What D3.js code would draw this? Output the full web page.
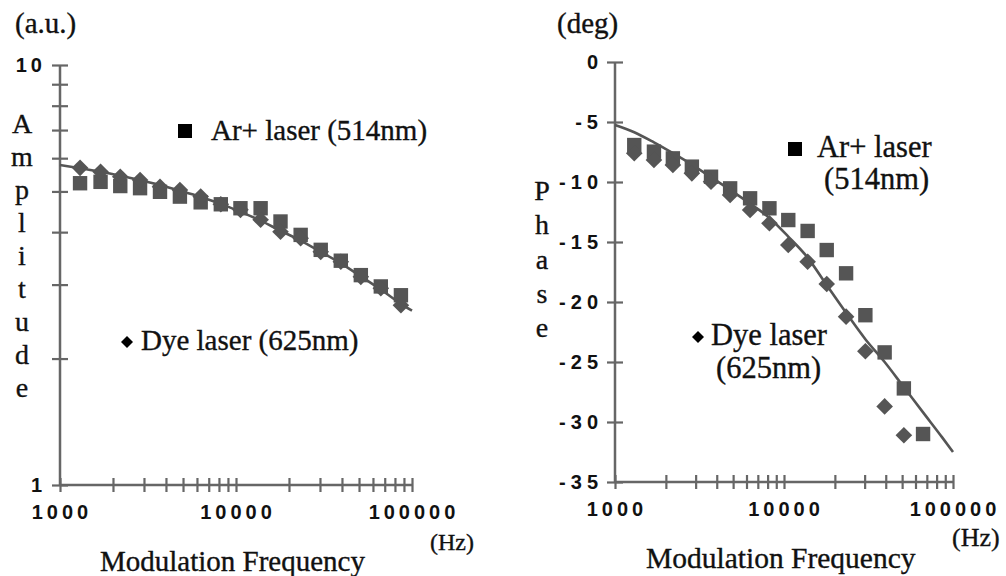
<!DOCTYPE html>
<html><head><meta charset="utf-8">
<script src="https://cdn.jsdelivr.net/npm/d3@7"></script>
<style>
body{margin:0;background:#fff}
.serif{font-family:"Liberation Serif","Times New Roman",serif;fill:#111;stroke:#111;stroke-width:0.35px}
.tick-lbl{font-family:"Liberation Sans",Arial,sans-serif;font-weight:bold;fill:#111;font-size:20px;letter-spacing:4px}
.tick-lbl.ph{letter-spacing:5px}
</style></head>
<body><svg id="c" width="1006" height="576"></svg>
<script>
// ---- data ----
const freqs = [1300,1700,2200,2850,3700,4800,6300,8200,10600,13800,17900,23300,30300,39400,51200,66500,86500];
const fitFreqs = [1000,1300,1700,2200,2850,3700,4800,6300,8200,10600,13800,17900,23300,30300,39400,51200,66500,86500,100000];
const ampAr  = [5.23,5.27,5.15,5.09,4.99,4.86,4.71,4.66,4.56,4.56,4.24,3.94,3.63,3.42,3.16,2.97,2.83];
const ampDye = [5.69,5.57,5.42,5.32,5.13,5.04,4.86,4.66,4.52,4.28,4.01,3.87,3.59,3.40,3.13,2.94,2.68];
const ampFit = [5.78,5.68,5.57,5.45,5.32,5.18,5.02,4.85,4.67,4.47,4.26,4.03,3.82,3.59,3.37,3.14,2.92,2.70,2.60];
const phaseAr  = [-6.92,-7.47,-8.03,-8.72,-9.56,-10.53,-11.36,-12.19,-13.17,-14.08,-15.67,-17.61,-21.1,-24.2,-27.2,-31.0];
const phaseDye = [-7.61,-8.17,-8.58,-9.28,-9.97,-11.08,-12.33,-13.44,-15.25,-16.64,-18.5,-21.22,-24.1,-28.7,-31.1];
const phaseFit = [-5.25,-5.85,-6.7,-7.6,-8.55,-9.6,-10.65,-11.8,-13.0,-14.55,-16.3,-18.6,-20.9,-23.1,-25.0,-27.1,-29.2,-31.3,-32.5];
const xTickLabels = [1000,10000,100000];
const ampTickLabels = [1,10];
const phaseTicks = [0,-5,-10,-15,-20,-25,-30,-35];
const ampLetters = ["A","m","p","l","i","t","u","d","e"];
const phaseLetters = ["P","h","a","s","e"];

const svg = d3.select("#c");
const AX = "#666", MK = "#555";

function diamondPath(r){ return `M0,${-r}L${r},0L0,${r}L${-r},0Z`; }
function squarePath(h){ return `M${-h},${-h}H${h}V${h}H${-h}Z`; }

function drawPanel(o){
  const g = svg.append("g");
  const x = o.x, y = o.y;
  const xr = x.range(), yr = y.range();
  g.append("line").attr("x1",xr[0]).attr("x2",xr[1]).attr("y1",yr[0]).attr("y2",yr[0]).attr("stroke",AX).attr("stroke-width",2.5);
  g.append("line").attr("x1",xr[0]).attr("x2",xr[0]).attr("y1",yr[0]).attr("y2",yr[1]).attr("stroke",AX).attr("stroke-width",2.5);
  const xa = d3.axisBottom(x).tickValues(x.ticks()).tickSize(0).tickFormat("");
  const gx = g.append("g").attr("transform",`translate(0,${yr[0]})`).call(xa);
  gx.select(".domain").remove();
  gx.selectAll(".tick line").attr("y1",-7).attr("y2",7).attr("stroke",AX).attr("stroke-width",2.2);
  const ya = d3.axisLeft(y).tickValues(o.yTicks).tickSize(0).tickFormat("");
  const gy = g.append("g").attr("transform",`translate(${xr[0]},0)`).call(ya);
  gy.select(".domain").remove();
  gy.selectAll(".tick line").attr("x1",-8).attr("x2",8).attr("stroke",AX).attr("stroke-width",2.2);
  g.selectAll(".xl").data(xTickLabels).enter().append("text").attr("class","tick-lbl")
    .attr("x",d=>x(d)+2).attr("y",yr[0]+34).attr("text-anchor","middle").text(d=>d);
  g.selectAll(".yl").data(o.yLabels).enter().append("text").attr("class","tick-lbl "+o.cls)
    .attr("x",o.yLabelX).attr("y",d=>y(d)).attr("dy","0.36em").attr("text-anchor","end").text(o.yFmt);
  const line = d3.line().x((d,i)=>x(fitFreqs[i])).y(d=>y(d)).curve(d3.curveMonotoneX);
  g.append("path").attr("d",line(o.fit)).attr("fill","none").attr("stroke",MK).attr("stroke-width",2.6);
  g.selectAll(".sq").data(o.ar).enter().append("path").attr("d",squarePath(7.2))
    .attr("transform",(d,i)=>`translate(${x(freqs[i])},${y(d)})`).attr("fill",MK);
  g.selectAll(".dm").data(o.dye).enter().append("path").attr("d",diamondPath(8.3))
    .attr("transform",(d,i)=>`translate(${x(freqs[i])},${y(d)})`).attr("fill",MK);
  return g;
}

// ---- left panel ----
const xL = d3.scaleLog().domain([1000,100000]).range([60,412]);
const yL = d3.scaleLog().domain([1,10]).range([485,65]);
drawPanel({x:xL,y:yL,yTicks:yL.ticks(),yLabels:ampTickLabels,yLabelX:46,cls:"",yFmt:d=>d,fit:ampFit,ar:ampAr,dye:ampDye});

// ---- right panel ----
const xR = d3.scaleLog().domain([1000,100000]).range([615,953]);
const yR = d3.scaleLinear().domain([-35,0]).range([482,62]);
drawPanel({x:xR,y:yR,yTicks:phaseTicks,yLabels:phaseTicks,yLabelX:603,cls:"ph",yFmt:d=>d===0?"0":"-"+Math.abs(d),fit:phaseFit,ar:phaseAr,dye:phaseDye});

// ---- texts ----
function txt(x,y,s,size,anchor){
  return svg.append("text").attr("class","serif").attr("x",x).attr("y",y).attr("font-size",size).attr("text-anchor",anchor||"start").text(s);
}
txt(15,33,"(a.u.)",29);
txt(557,33,"(deg)",29);
svg.selectAll(".al").data(ampLetters).enter().append("text").attr("class","serif").attr("font-size",28)
  .attr("text-anchor","middle").attr("x",22).attr("y",(d,i)=>133+i*33).text(d=>d);
svg.selectAll(".pl").data(phaseLetters).enter().append("text").attr("class","serif").attr("font-size",28)
  .attr("text-anchor","middle").attr("x",542).attr("y",(d,i)=>200+i*34.3).text(d=>d);

svg.append("path").attr("d",squarePath(7)).attr("transform","translate(185,131)").attr("fill","#000");
txt(211,140,"Ar+ laser (514nm)",29);
svg.append("path").attr("d",diamondPath(6)).attr("transform","translate(127,342)").attr("fill","#000");
txt(141,350,"Dye laser (625nm)",29);
svg.append("path").attr("d",squarePath(7)).attr("transform","translate(795,149)").attr("fill","#000");
txt(817,157,"Ar+ laser",30.5);
txt(824,189,"(514nm)",30.5);
svg.append("path").attr("d",diamondPath(6)).attr("transform","translate(698,337)").attr("fill","#000");
txt(711,345,"Dye laser",30.5);
txt(716,378,"(625nm)",30.5);

txt(100,571,"Modulation Frequency",29);
txt(646,568,"Modulation Frequency",29.5);
txt(430,550,"(Hz)",24);
txt(952,546,"(Hz)",26);
</script></body></html>
